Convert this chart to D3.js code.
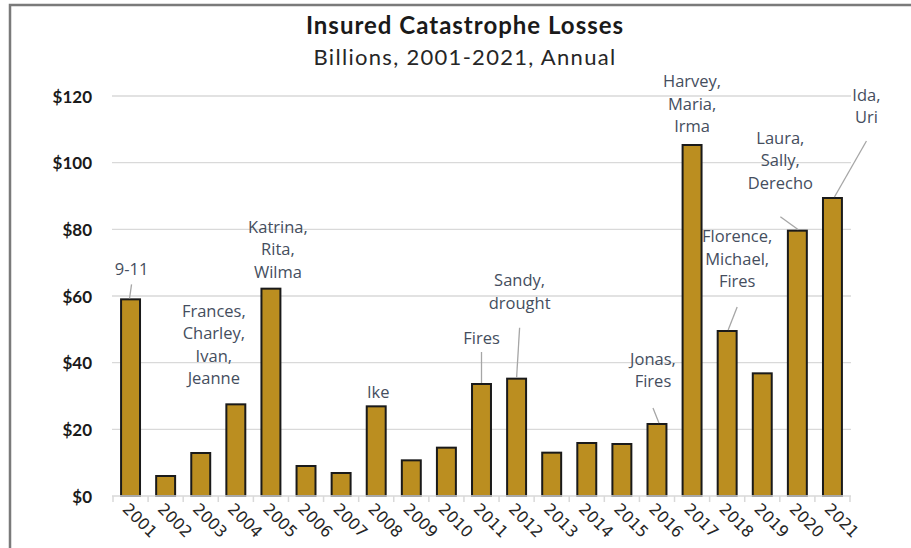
<!DOCTYPE html>
<html>
<head>
<meta charset="utf-8">
<script src="https://d3js.org/d3.v7.min.js"></script>
<style>
  body { margin: 0; background: #fff; }
  .title { font: bold 24px Lato, sans-serif; fill: #1a1a1a; letter-spacing: 1px; }
  .subtitle { font: 22px Lato, sans-serif; fill: #262626; letter-spacing: 1.3px; }
  .y-axis text { font: bold 17px Lato, sans-serif; fill: #1a1a1a; }
  .x-axis text { font: 16px "DejaVu Sans", sans-serif; fill: #262626; }
  .note { font: 16.5px "Open Sans", sans-serif; fill: #454e5e; }
</style>
</head>
<body>
<svg id="chart" width="911" height="548"></svg>
<script>
// data
var years = ["2001","2002","2003","2004","2005","2006","2007","2008","2009","2010","2011",
             "2012","2013","2014","2015","2016","2017","2018","2019","2020","2021"];
var losses = [59.0, 6.0, 12.9, 27.5, 62.2, 9.0, 6.9, 26.9, 10.7, 14.5, 33.6,
              35.2, 13.0, 15.9, 15.6, 21.6, 105.3, 49.5, 36.8, 79.6, 89.4];
var yTicks = [0, 20, 40, 60, 80, 100, 120];

var noteYears = ["2001", "2004", "2005", "2008", "2011", "2012", "2016", "2017", "2018", "2020", "2021"];
var noteTexts = [
  ["9-11"],
  ["Frances,", "Charley,", "Ivan,", "Jeanne"],
  ["Katrina,", "Rita,", "Wilma"],
  ["Ike"],
  ["Fires"],
  ["Sandy,", "drought"],
  ["Jonas,", "Fires"],
  ["Harvey,", "Maria,", "Irma"],
  ["Florence,", "Michael,", "Fires"],
  ["Laura,", "Sally,", "Derecho"],
  ["Ida,", "Uri"]
];

// label placement relative to bar top: [label dx, gap above bar, leader start below baseline (0 = none), leader end dx]
var noteLayout = [
  [1, 24, 9, -1],
  [-22, 20, 0, 0],
  [7, 11, 0, 0],
  [2, 8, 0, 0],
  [0, 40, 8, 0],
  [3, 70, 19, 0],
  [-4, 37, 21, 2],
  [0, 13, 0, 0],
  [10, 44, 20, 1],
  [-17, 42, 28, 1],
  [34, 75, 18, 2]
];

var svg = d3.select("#chart");
var W = 911, H = 548;

// frame
svg.append("path")
  .attr("d", "M10," + H + " V5 H" + W)
  .attr("fill", "none")
  .attr("stroke", "#7a7a7a")
  .attr("stroke-width", 2.5);

svg.append("text").attr("class", "title")
  .attr("x", 465).attr("y", 34).attr("text-anchor", "middle")
  .text("Insured Catastrophe Losses");
svg.append("text").attr("class", "subtitle")
  .attr("x", 465).attr("y", 65).attr("text-anchor", "middle")
  .text("Billions, 2001-2021, Annual");

var x = d3.scaleBand().domain(years).range([113, 850]).paddingInner(0.46).paddingOuter(0.23);
var y = d3.scaleLinear().domain([0, 120]).range([496, 96]);

// gridlines
svg.append("g").selectAll("line")
  .data(yTicks.filter(function(d) { return d > 0; }))
  .enter().append("line")
  .attr("x1", 112).attr("x2", 851)
  .attr("y1", function(d) { return y(d); })
  .attr("y2", function(d) { return y(d); })
  .attr("stroke", "#d9d9d9").attr("stroke-width", 1.3);

// y axis labels
var yAxis = d3.axisLeft(y).tickValues(yTicks).tickSize(0).tickPadding(0)
  .tickFormat(function(d) { return "$" + d; });
svg.append("g").attr("class", "y-axis")
  .attr("transform", "translate(92,0)")
  .call(yAxis)
  .call(function(g) { g.select(".domain").remove(); })
  .selectAll("text").attr("dy", "0.36em");

// bars
svg.append("g").selectAll("rect")
  .data(losses)
  .enter().append("rect")
  .attr("x", function(d, i) { return x(years[i]); })
  .attr("y", function(d) { return y(d); })
  .attr("width", x.bandwidth())
  .attr("height", function(d) { return y(0) - y(d); })
  .attr("fill", "#bb8e20")
  .attr("stroke", "#1a1a1a")
  .attr("stroke-width", 2);

// x axis baseline with ticks between categories
var step = x.step();
var xg = svg.append("g").attr("class", "x-axis");
xg.append("line")
  .attr("x1", 112).attr("x2", 851)
  .attr("y1", y(0)).attr("y2", y(0))
  .attr("stroke", "#d9d9d9").attr("stroke-width", 1.5);
xg.selectAll(".tk")
  .data(d3.range(years.length + 1))
  .enter().append("line").attr("class", "tk")
  .attr("x1", function(i) { return 113 + i * step; })
  .attr("x2", function(i) { return 113 + i * step; })
  .attr("y1", y(0)).attr("y2", y(0) + 6)
  .attr("stroke", "#d9d9d9").attr("stroke-width", 1.5);
xg.selectAll(".lbl")
  .data(years)
  .enter().append("text").attr("class", "lbl")
  .attr("transform", function(d) {
    return "translate(" + (x(d) + x.bandwidth() / 2 - 5) + "," + (y(0) + 10) + ") rotate(45)";
  })
  .attr("dy", "0.35em")
  .text(function(d) { return d; });

// annotations
var lineH = 22.5;
noteYears.forEach(function(yr, k) {
  var idx = years.indexOf(yr);
  var cx = x(yr) + x.bandwidth() / 2;
  var top = y(losses[idx]);
  var lay = noteLayout[k];
  var lines = noteTexts[k];
  var lx = cx + lay[0];
  var lastBase = top - lay[1];
  var t = svg.append("text").attr("class", "note").attr("text-anchor", "middle");
  lines.forEach(function(s, j) {
    t.append("tspan")
      .attr("x", lx)
      .attr("y", lastBase - (lines.length - 1 - j) * lineH)
      .text(s);
  });
  if (lay[2] > 0) {
    svg.append("line")
      .attr("x1", lx).attr("y1", lastBase + lay[2])
      .attr("x2", cx + lay[3]).attr("y2", top - 1)
      .attr("stroke", "#a6a6a6").attr("stroke-width", 1.3);
  }
});
</script>
</body>
</html>
